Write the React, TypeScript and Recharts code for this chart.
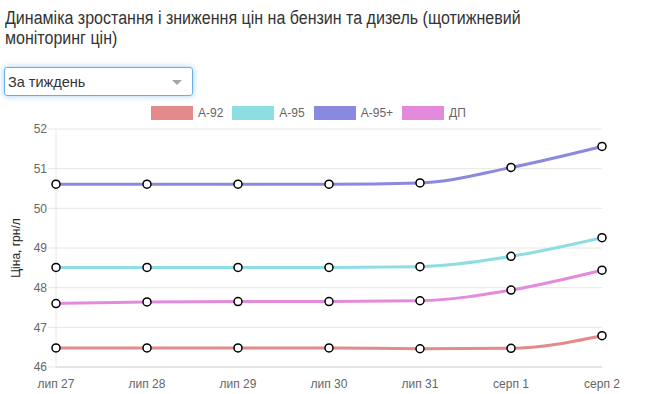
import * as React from 'react';
import { LineChart, Line, XAxis, YAxis, CartesianGrid } from 'recharts';

// тиждень: лип 27 – серп 2
const days = ['лип 27', 'лип 28', 'лип 29', 'лип 30', 'лип 31', 'серп 1', 'серп 2'];
const a92 = [46.48, 46.48, 46.48, 46.48, 46.46, 46.47, 46.79];
const a95 = [48.51, 48.51, 48.51, 48.51, 48.53, 48.79, 49.26];
const a95plus = [50.61, 50.61, 50.61, 50.61, 50.64, 51.03, 51.56];
const dp = [47.6, 47.64, 47.65, 47.65, 47.67, 47.94, 48.44];
const yTicks = [46, 47, 48, 49, 50, 51, 52];

const series = [
  { key: 'a92', name: 'А-92', color: '#e38a8a', values: a92 },
  { key: 'a95', name: 'А-95', color: '#8ddee2', values: a95 },
  { key: 'a95plus', name: 'А-95+', color: '#8a89e0', values: a95plus },
  { key: 'dp', name: 'ДП', color: '#e38adc', values: dp },
];

const data = days.map((day, i) => {
  const row: Record<string, number | string> = { day };
  series.forEach((s) => {
    row[s.key] = s.values[i];
  });
  return row;
});

const FONT = '"Liberation Sans", Arial, Helvetica, sans-serif';
const tickStyle = { fontFamily: FONT, fontSize: 12, fill: '#666' };

export default function App() {
  return (
    <div
      style={{
        position: 'absolute',
        left: 0,
        top: 0,
        width: 652,
        height: 394,
        background: '#fff',
        fontFamily: FONT,
        overflow: 'hidden',
      }}
    >
      <div
        style={{
          position: 'absolute',
          left: 5,
          top: 8,
          fontSize: 18,
          lineHeight: '20px',
          color: '#333',
          whiteSpace: 'nowrap',
          transform: 'scaleX(0.89)',
          transformOrigin: 'left top',
        }}
      >
        Динаміка зростання і зниження цін на бензин та дизель (щотижневий
        <br />
        моніторинг цін)
      </div>

      <div
        style={{
          position: 'absolute',
          left: 4,
          top: 67,
          width: 189,
          height: 29,
          boxSizing: 'border-box',
          border: '1px solid #66afe9',
          borderRadius: 3,
          boxShadow: '0 0 6px rgba(102,175,233,0.6)',
          fontSize: 14.5,
          color: '#333',
          lineHeight: '29px',
          paddingLeft: 3,
        }}
      >
        За тиждень
        <div
          style={{
            position: 'absolute',
            right: 10,
            top: 12,
            width: 0,
            height: 0,
            borderLeft: '5px solid transparent',
            borderRight: '5px solid transparent',
            borderTop: '5px solid #a6a6a6',
          }}
        />
      </div>

      <div style={{ position: 'absolute', left: 151, top: 106, display: 'flex', alignItems: 'center' }}>
        {series.map((s) => (
          <div key={s.key} style={{ display: 'flex', alignItems: 'center', marginRight: 9 }}>
            <div style={{ width: 42, height: 14, background: s.color }} />
            <span style={{ marginLeft: 5, fontSize: 12, color: '#666' }}>{s.name}</span>
          </div>
        ))}
      </div>

      <div style={{ position: 'absolute', left: 0, top: 120 }}>
        <LineChart width={652} height={274} data={data} margin={{ top: 9, right: 50, left: 0, bottom: 0 }}>
          <CartesianGrid vertical={false} stroke="#e6e6e6" />
          <XAxis
            dataKey="day"
            height={27}
            tick={tickStyle}
            tickLine={false}
            tickMargin={6}
            axisLine={{ stroke: '#d6d6d6' }}
          />
          <YAxis
            width={56}
            domain={[46, 52]}
            ticks={yTicks}
            tick={tickStyle}
            tickSize={8}
            tickMargin={1}
            tickLine={{ stroke: '#e6e6e6' }}
            axisLine={{ stroke: '#e6e6e6' }}
            label={{
              value: 'Ціна, грн/л',
              angle: -90,
              position: 'insideLeft',
              offset: 16,
              style: { textAnchor: 'middle', fontFamily: FONT, fontSize: 12, fill: '#222' },
            }}
          />
          {series.map((s) => (
            <Line
              key={s.key}
              type="monotone"
              dataKey={s.key}
              name={s.name}
              stroke={s.color}
              strokeWidth={3}
              dot={{ r: 4, fill: '#fff', stroke: '#000', strokeWidth: 1.5 }}
              activeDot={false}
              isAnimationActive={false}
            />
          ))}
        </LineChart>
      </div>
    </div>
  );
}
